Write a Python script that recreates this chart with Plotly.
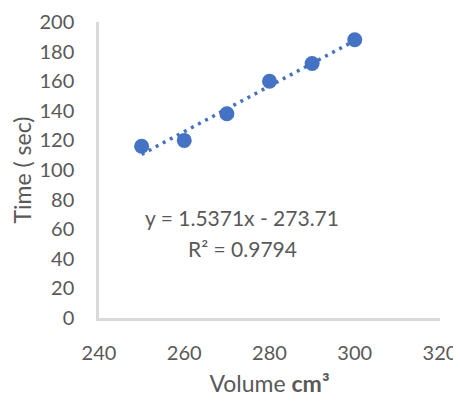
import numpy as np
import plotly.graph_objects as go

volume = [250, 260, 270, 280, 290, 300]
time_sec = [116, 120, 138, 160, 172, 188]
x_ticks = [240, 260, 280, 300, 320]
y_ticks = [0, 20, 40, 60, 80, 100, 120, 140, 160, 180, 200]

slope, intercept = np.polyfit(volume, time_sec, 1)
fit_x = [min(volume), max(volume)]
fit_y = [slope * v + intercept for v in fit_x]

FONT = "Lato, 'Open Sans', sans-serif"
GRAY = "#595959"
BLUE = "#4472C4"

fig = go.Figure()
fig.add_trace(go.Scatter(x=fit_x, y=fit_y, mode="lines",
                         line=dict(color=BLUE, width=3.5, dash="3px,5px"),
                         showlegend=False, hoverinfo="skip"))
fig.add_trace(go.Scatter(x=volume, y=time_sec, mode="markers",
                         marker=dict(color=BLUE, size=15),
                         showlegend=False))

fig.add_annotation(x=0.42, y=0.341, xref="paper", yref="paper",
                   xanchor="center", yanchor="middle",
                   text="y = 1.5371x - 273.71",
                   showarrow=False, align="center",
                   font=dict(family=FONT, size=21, color=GRAY))
fig.add_annotation(x=0.42, y=0.236, xref="paper", yref="paper",
                   xanchor="center", yanchor="middle",
                   text="R² = 0.9794",
                   showarrow=False, align="center",
                   font=dict(family=FONT, size=21, color=GRAY))

fig.update_layout(
    width=453, height=389,
    margin=dict(l=91, r=21, t=14, b=79),
    paper_bgcolor="white", plot_bgcolor="white",
    font=dict(family=FONT, color=GRAY),
    xaxis=dict(range=[240, 320], tickvals=x_ticks, showgrid=False,
               zeroline=False, showline=True, linecolor="#d9d9d9",
               linewidth=2.5, ticks="", automargin=False,
               ticklabelstandoff=15, ticklabeloverflow="allow",
               tickfont=dict(size=20, color=GRAY),
               title=dict(text="Volume <b>cm³</b>", font=dict(size=23, color=GRAY),
                          standoff=19)),
    yaxis=dict(range=[0, 200], tickvals=y_ticks, showgrid=False,
               zeroline=False, showline=True, linecolor="#d9d9d9",
               linewidth=2.5, ticks="", automargin=False,
               ticklabelstandoff=18,
               tickfont=dict(size=20, color=GRAY),
               title=dict(text="Time ( sec)", font=dict(size=23, color=GRAY),
                          standoff=4)),
)

fig.write_html("out.html")
